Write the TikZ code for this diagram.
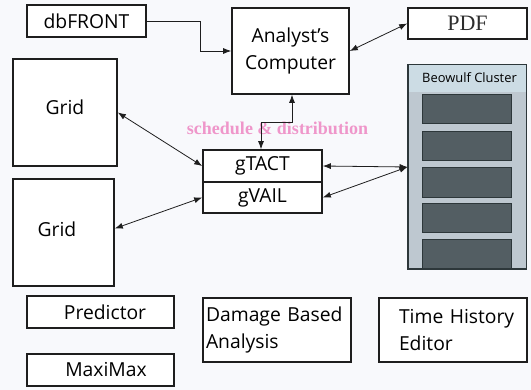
\documentclass[tikz,border=0pt]{standalone}
\usepackage{fontspec}
\setmainfont{Open Sans}
\newfontfamily\serifpdf{Liberation Serif}
\usetikzlibrary{arrows.meta,calc}
\definecolor{bgc}{RGB}{248,249,252}
\definecolor{linec}{RGB}{30,30,30}
\definecolor{clfill}{RGB}{190,200,208}
\definecolor{clband}{RGB}{204,220,228}
\definecolor{cldark}{RGB}{83,94,99}
\definecolor{cledge}{RGB}{45,55,58}
\definecolor{pinkc}{RGB}{236,118,186}
\tikzset{
  box/.style={draw=linec, line width=1.6pt, fill=white, inner sep=0pt, text=black,
    font=\fontsize{19.3}{27}\selectfont},
  lbl/.style={inner sep=0pt, text=black, font=\fontsize{19.3}{27}\selectfont},
  conn/.style={draw=linec, line width=0.8pt},
  both/.style={conn, {Latex[length=8pt,width=6pt]}-{Latex[length=8pt,width=6pt]}},
  single/.style={conn, -{Latex[length=8pt,width=6pt]}},
  unit/.style={draw=cledge, line width=0.9pt, fill=cldark}
}
\begin{document}
\begin{tikzpicture}[x=1pt,y=-1pt]
\fill[bgc] (0,0) rectangle (531,390);
\useasboundingbox (0,0) rectangle (531,390);

% boxes
\node[box, minimum width=119pt, minimum height=32pt] (db) at (86.5,21) {dbFRONT};
\node[box, minimum width=117pt, minimum height=86pt, align=center] (ac) at (290.5,51) {Analyst’s\\Computer};
\node[box, minimum width=119pt, minimum height=31pt, font=\serifpdf\fontsize{22}{24}\selectfont, text={rgb,255:red,45;green,45;blue,45}] (pdf) at (467.5,23.5) {PDF};
\node[box, minimum width=104pt, minimum height=107pt] (g1) at (65,112.5) {};
\node[lbl] (g1t) at (65,107) {Grid};
\node[box, minimum width=101pt, minimum height=107pt] (g2) at (63.5,232.5) {};
\node[lbl] (g2t) at (57,229) {Grid};
\node[box, minimum width=119pt, minimum height=32pt] (gt) at (262.5,166) {gTACT};
\node[box, minimum width=119pt, minimum height=31pt] (gv) at (262.5,197.5) {gVAIL};

% Beowulf cluster
\node[draw=cledge, line width=1pt, fill=clfill, minimum width=118pt, minimum height=204pt, inner sep=0pt] (beo) at (467,167) {};
\node[fill=clband, minimum width=117pt, minimum height=27pt, inner sep=0pt] (band) at (467,78.5) {};
\node[inner sep=0pt, text=black, font=\fontsize{12.9}{14}\selectfont] (beot) at (469.5,78) {Beowulf Cluster};
\node[unit, minimum width=89pt, minimum height=29pt, inner sep=0pt] (u1) at (466.5,108.5) {};
\node[unit, minimum width=89pt, minimum height=29pt, inner sep=0pt] (u2) at (466.5,145.5) {};
\node[unit, minimum width=89pt, minimum height=30pt, inner sep=0pt] (u3) at (466.5,182) {};
\node[unit, minimum width=89pt, minimum height=29pt, inner sep=0pt] (u4) at (466.5,217.5) {};
\node[unit, minimum width=89pt, minimum height=29pt, inner sep=0pt] (u5) at (466.5,253.5) {};
\draw[cledge, line width=1pt] (beo.north west) rectangle (beo.south east);

% pink label
\node[inner sep=0pt, text=pinkc, opacity=0.75, font=\serifpdf\bfseries\fontsize{18}{20}\selectfont] (sched) at (277.5,128) {schedule \& distribution};

% bottom boxes
\node[box, minimum width=147pt, minimum height=32pt] (pred) at (100.5,312) {\hspace*{9pt}Predictor};
\node[box, minimum width=147pt, minimum height=32pt] (maxi) at (100.5,370) {\hspace*{11pt}MaxiMax};
\node[box, minimum width=148pt, minimum height=64pt, text width=142pt, align=left] (dmg) at (277,330) {Damage Based\\Analysis};
\node[box, minimum width=148pt, minimum height=64pt, text width=142pt, align=left] (the) at (453,330) {\hspace*{17pt}Time History\\\hspace*{17pt}Editor};

% connectors
\coordinate (k1) at (200,51);
\draw[single] (db.east) -| (k1) -- (ac.west |- k1);
\coordinate (k2) at (292,122);
\coordinate (k3) at (261,122);
\draw[both] (ac.south -| k2) -- (k2) -- (k3) -- (gt.north -| k3);
\draw[both] (ac.east) -- (pdf.west);
\draw[both] (g1.east) -- (gt.west);
\draw[both] ([yshift=4pt]g2.east) -- (gv.west);
\draw[both] (gt.east) -- (beo.west);
\draw[both] (gv.east) -- (beo.west);
\end{tikzpicture}
\end{document}
